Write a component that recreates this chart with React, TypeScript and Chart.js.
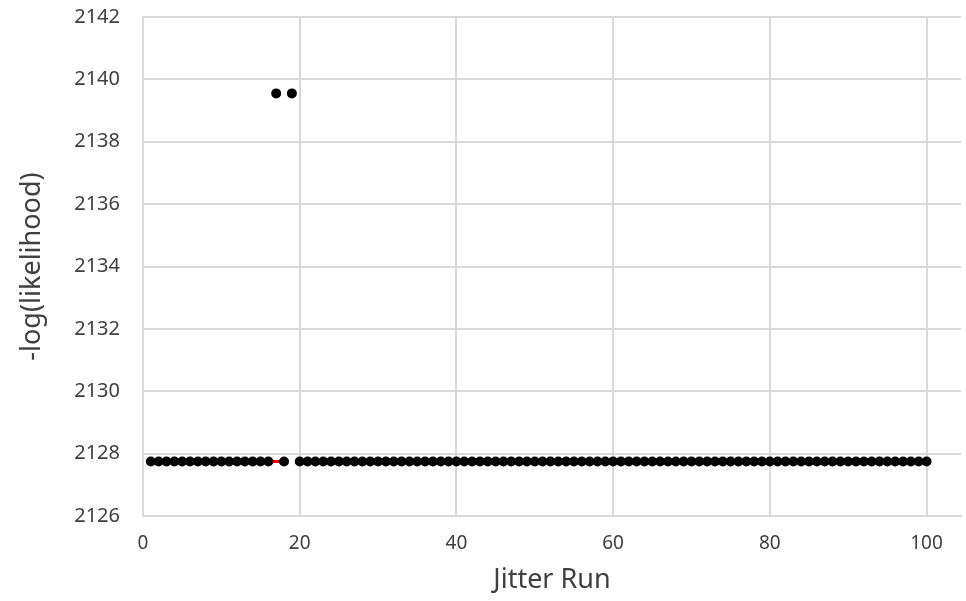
import React, { useEffect, useRef } from "react";
import { Chart, registerables } from "chart.js";

Chart.register(...registerables);

const runs: number[] = Array.from({ length: 100 }, (_, i) => i + 1);
const BASE = 2127.75;
const OUTLIER = 2139.55;
// -log(likelihood) per jitter run (runs 17 and 19 are outliers)
const likelihoodValues: number[] = [
  BASE, BASE, BASE, BASE, BASE, BASE, BASE, BASE, BASE, BASE,
  BASE, BASE, BASE, BASE, BASE, BASE, OUTLIER, BASE, OUTLIER, BASE,
  BASE, BASE, BASE, BASE, BASE, BASE, BASE, BASE, BASE, BASE,
  BASE, BASE, BASE, BASE, BASE, BASE, BASE, BASE, BASE, BASE,
  BASE, BASE, BASE, BASE, BASE, BASE, BASE, BASE, BASE, BASE,
  BASE, BASE, BASE, BASE, BASE, BASE, BASE, BASE, BASE, BASE,
  BASE, BASE, BASE, BASE, BASE, BASE, BASE, BASE, BASE, BASE,
  BASE, BASE, BASE, BASE, BASE, BASE, BASE, BASE, BASE, BASE,
  BASE, BASE, BASE, BASE, BASE, BASE, BASE, BASE, BASE, BASE,
  BASE, BASE, BASE, BASE, BASE, BASE, BASE, BASE, BASE, BASE,
];
// best (minimum) line, with a gap at run 19
const bestLineValues: (number | null)[] = runs.map((r) => (r === 19 ? null : BASE));
const xTicks: number[] = [0, 20, 40, 60, 80, 100];
const yTicks: number[] = [2126, 2128, 2130, 2132, 2134, 2136, 2138, 2140, 2142];

export default function App() {
  const ref = useRef<HTMLCanvasElement | null>(null);
  useEffect(() => {
    document.body.style.margin = "0";
    const font = "'Noto Sans', 'Open Sans', sans-serif";
    const chart = new Chart(ref.current as HTMLCanvasElement, {
      type: "scatter",
      data: {
        datasets: [
          {
            label: "points",
            data: runs.map((r, i) => ({ x: r, y: likelihoodValues[i] })),
            backgroundColor: "#000000",
            borderColor: "#000000",
            pointRadius: 5,
            pointBorderWidth: 0,
            showLine: false,
            order: 1,
          },
          {
            label: "best",
            data: runs.map((r, i) => ({ x: r, y: bestLineValues[i] as any })),
            borderColor: "#ff0000",
            backgroundColor: "#ff0000",
            borderWidth: 3,
            pointRadius: 0,
            showLine: true,
            spanGaps: false,
            order: 2,
          },
        ],
      },
      options: {
        animation: false,
        responsive: false,
        maintainAspectRatio: false,
        layout: { padding: { top: 16, right: 0, left: 0, bottom: 0 } },
        plugins: { legend: { display: false }, tooltip: { enabled: false } },
        scales: {
          x: {
            type: "linear",
            min: 0,
            max: 104.4,
            afterBuildTicks: (s: any) => {
              s.ticks = xTicks.map((v) => ({ value: v }));
            },
            afterFit: (s: any) => {
              s.height = 85;
            },
            grid: { color: "#d9d9d9", lineWidth: 2, drawTicks: false },
            border: { color: "#d9d9d9", width: 2 },
            ticks: {
              padding: 16,
              color: "#404040",
              font: { family: font, size: 19 },
              callback: (v: any) => String(v),
            },
            title: {
              display: true,
              text: "Jitter Run",
              color: "#404040",
              font: { family: font, size: 27 },
              padding: { top: 0, bottom: 4 },
            },
          },
          y: {
            type: "linear",
            min: 2126,
            max: 2142,
            afterBuildTicks: (s: any) => {
              s.ticks = yTicks.map((v) => ({ value: v }));
            },
            afterFit: (s: any) => {
              s.width = 143;
            },
            grid: { color: "#d9d9d9", lineWidth: 2, drawTicks: false },
            border: { color: "#d9d9d9", width: 2 },
            ticks: {
              padding: 23,
              color: "#404040",
              font: { family: font, size: 20 },
              callback: (v: any) => String(v),
            },
            title: {
              display: true,
              text: "-log(likelihood)",
              color: "#404040",
              font: { family: font, size: 27 },
              padding: { top: 16, bottom: 0 },
            },
          },
        },
      },
    } as any);
    return () => chart.destroy();
  }, []);
  return (
    <div style={{ width: 966, height: 601, background: "#ffffff", overflow: "hidden" }}>
      <canvas ref={ref} width={966} height={619} style={{ display: "block", marginTop: -18 }} />
    </div>
  );
}
